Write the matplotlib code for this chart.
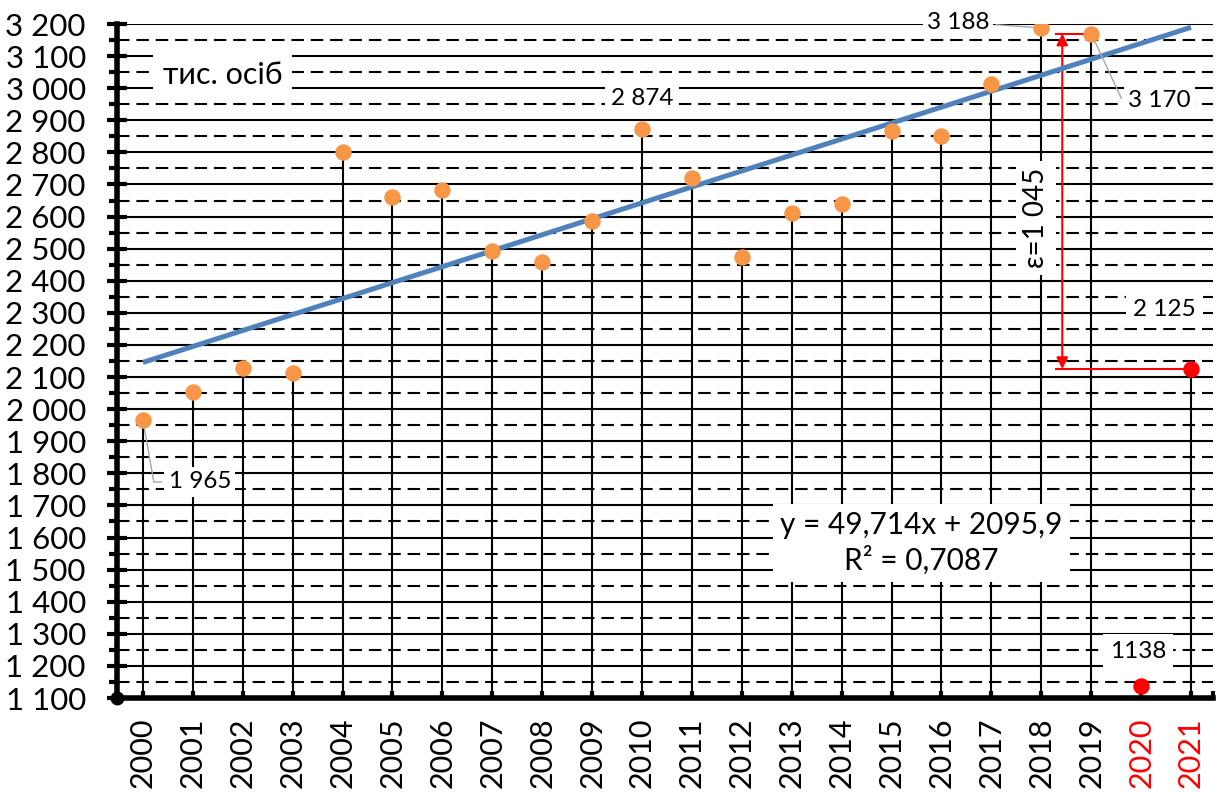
import numpy as np
import matplotlib.pyplot as plt
from matplotlib.ticker import FuncFormatter, MultipleLocator

plt.rc("font", family=["Lato", "DejaVu Sans"])

# data
years = list(range(2000, 2022))
values = [1965, 2054, 2127, 2113, 2801, 2661, 2683, 2493, 2459, 2586,
          2874, 2720, 2474, 2611, 2639, 2867, 2851, 3013, 3188, 3170,
          1138, 2125]
red_years = [2020, 2021]
slope, intercept, r2 = 49.714, 2095.9, 0.7087
unit_label = "тис. осіб"


def fmt(v):
    return f"{int(v):,}".replace(",", " ")


fact_x = years[:20]
fact_y = values[:20]
red_y = values[20:]
eps_top = values[19]
eps_bottom = values[21]
eps = eps_top - eps_bottom

fig = plt.figure(figsize=(12.2, 7.92), dpi=100)
ax = fig.add_axes([117 / 1220, 1 - 698 / 792, (1213 - 117) / 1220, (698 - 24) / 792])

xmin, xmax = 1999.48, 2021.44
ax.set_xlim(xmin, xmax)
ax.set_ylim(1100, 3200)

# grid
ax.set_axisbelow(True)
ax.yaxis.set_major_locator(MultipleLocator(100))
ax.yaxis.set_minor_locator(MultipleLocator(50))
ax.yaxis.set_major_formatter(FuncFormatter(lambda v, p: fmt(v)))
ax.grid(which="major", axis="y", color="black", lw=1.5)
ax.grid(which="minor", axis="y", color="black", lw=1.5, ls=(0, (6, 3.3)))

# stems, trend, points
ax.vlines(years, 1100, values, color="black", lw=1.5, zorder=2)
trend_y = slope * (np.arange(len(years)) + 1) + intercept
ax.plot(years, trend_y, color="#4F81BD", lw=3.6, zorder=4, solid_capstyle="butt")
ax.scatter(fact_x, fact_y, s=140, color="#F79646", zorder=5, linewidths=0)
ax.scatter(red_years, red_y, s=140, color="#FF0000", zorder=5, linewidths=0, clip_on=False)

# epsilon arrow
arrow_x = 2018.42
ax.hlines(eps_top, 2018.28, 2019, color="red", lw=1.5, zorder=3)
ax.hlines(eps_bottom, 2018.28, 2021, color="red", lw=1.5, zorder=3)
ax.annotate("", xy=(arrow_x, eps_top), xytext=(arrow_x, eps_bottom),
            arrowprops=dict(arrowstyle="<|-|>", color="red", lw=1.5,
                            mutation_scale=17, shrinkA=0, shrinkB=0), zorder=3)

box = dict(facecolor="white", edgecolor="none")
ax.text(2017.9, 2596, "ε=" + fmt(eps), rotation=90, ha="center", va="center",
        fontsize=20, bbox=dict(box, pad=5), zorder=6)

# labels
ax.text(2001.6, 3041, unit_label, ha="center", va="center", fontsize=22,
        bbox=dict(box, pad=7), zorder=6)
ax.text(2010, 2969, fmt(values[10]), ha="center", va="center", fontsize=17.5,
        bbox=dict(box, pad=4), zorder=6)
ax.text(2020.46, 2309, fmt(values[21]), ha="center", va="center", fontsize=17.5,
        bbox=dict(box, pad=5), zorder=6)
ax.text(2019.94, 1244, str(values[20]), ha="center", va="center", fontsize=17.5,
        bbox=dict(box, pad=5), zorder=6)
ax.text(2015.6, 1583, f"y = {slope:.3f}x + {intercept:.1f}".replace(".", ",")
        + "\n" + f"R² = {r2:.4f}".replace(".", ","),
        ha="center", va="center", fontsize=21.5, linespacing=1.3,
        bbox=dict(box, pad=5), zorder=6)

leader = dict(arrowstyle="-", color="#A6A6A6", lw=1, shrinkA=2, shrinkB=6)
ax.annotate(fmt(values[18]), xy=(2018, values[18]), xytext=(2016.33, 3206),
            ha="center", va="center", fontsize=17.5, bbox=dict(box, pad=3),
            arrowprops=leader, zorder=6, annotation_clip=False)
ax.annotate(fmt(values[19]), xy=(2019, values[19]), xytext=(2020.36, 2963),
            ha="center", va="center", fontsize=17.5, bbox=dict(box, pad=3),
            arrowprops=dict(leader, connectionstyle="angle,angleA=0,angleB=-65,rad=0"),
            zorder=6)
ax.annotate(fmt(values[0]), xy=(2000, values[0]), xytext=(2001.14, 1773),
            ha="center", va="center", fontsize=17.5, bbox=dict(box, pad=3),
            arrowprops=dict(leader, connectionstyle="angle,angleA=0,angleB=-80,rad=0"),
            zorder=6)

# axes look
for s in ["top", "right"]:
    ax.spines[s].set_visible(False)
for s in ["left", "bottom"]:
    ax.spines[s].set_linewidth(4)
    ax.spines[s].set_zorder(7)

ax.set_xticks(years)
ax.set_xticklabels([str(y) for y in years])
ax.set_xticks([xmax], minor=True)
ax.tick_params(axis="x", which="both", direction="in", length=5, width=3,
               labelrotation=90, labelsize=22, pad=14)
ax.tick_params(axis="y", which="major", direction="inout", length=15, width=3,
               labelsize=22.5, pad=15)
ax.tick_params(axis="y", which="minor", direction="out", length=6, width=3)
for lbl in ax.get_xticklabels():
    if int(lbl.get_text()) in red_years:
        lbl.set_color("red")

ax.plot(xmin, 1100, "o", color="black", ms=9, clip_on=False, zorder=8)

plt.savefig("out.png", dpi=100)
